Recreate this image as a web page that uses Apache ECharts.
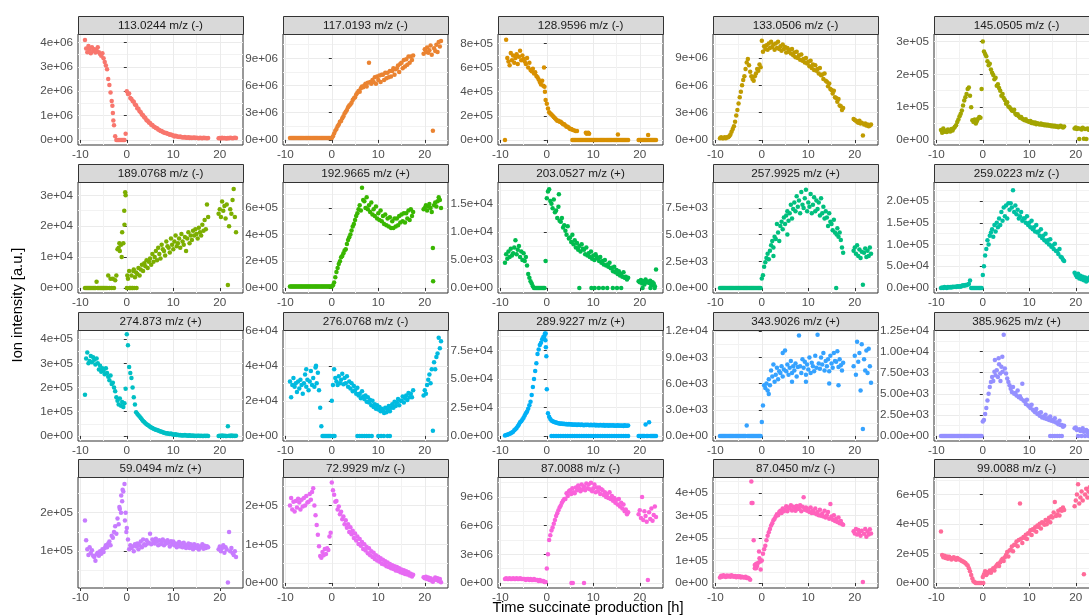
<!DOCTYPE html>
<html><head><meta charset="utf-8">
<script src="https://cdn.jsdelivr.net/npm/echarts@6/dist/echarts.min.js"></script>
<style>html,body{margin:0;padding:0;background:#fff}#c{width:1089px;height:616px}</style>
</head><body><div id="c"></div>
<script>
// ---------------- DATA ----------------
const time = [
-9,-8.75,-8.5,-8.25, -8,-7.75,-7.5,-7.25, -7,-6.75,-6.5,-6.25, -6,-5.75,-5.5,-5.25,
-5,-4.75,-4.5,-4.25, -4,-3.75,-3.5,-3.25, -3,-2.75,-2.5,-2.25, -2,-1.75,-1.5,-1.25,
-1,-0.75,-0.5,-0.25, 0,0.25,0.5,0.75, 1,1.25,1.5,1.75, 2,2.25,2.5,2.75,
3,3.25,3.5,3.75, 4,4.25,4.5,4.75, 5,5.25,5.5,5.75, 6,6.25,6.5,6.75,
7,7.25,7.5,7.75, 8,8.25,8.5,8.75, 9,9.25,9.5,9.75, 10,10.25,10.5,10.75,
11,11.25,11.5,11.75, 12,12.25,12.5,12.75, 13,13.25,13.5,13.75, 14,14.25,14.5,14.75,
15,15.25,15.5,15.75, 16,16.25,16.5,16.75, 17,17.25,17.5,
19.75,20,20.25,20.5,20.75,21,21.25,21.5,21.75,22,22.25,22.5,22.75,23,23.25,23.5];

const titles = ['113.0244 m/z (-)','117.0193 m/z (-)','128.9596 m/z (-)','133.0506 m/z (-)','145.0505 m/z (-)',
'189.0768 m/z (-)','192.9665 m/z (+)','203.0527 m/z (+)','257.9925 m/z (+)','259.0223 m/z (-)',
'274.873 m/z (+)','276.0768 m/z (-)','289.9227 m/z (+)','343.9026 m/z (+)','385.9625 m/z (+)',
'59.0494 m/z (+)','72.9929 m/z (-)','87.0088 m/z (-)','87.0450 m/z (-)','99.0088 m/z (-)'];

// unit of each panel's value list
const unit = [1e4,1e5,1e4,1e5,1e3, 1e2,1e4,1e2,1e2,1e3, 1e3,1e2,1e2,1e2,1e1, 1e3,1e3,1e5,1e3,1e3];

const v01 = [410,375,360,385, 370,355,380,365, 372,358,368,380, 360,352,345,355, 335,320,305,290, 250,225,195,160, 110,60,15,0, 0,0,0,0, 0,0,0,25,
200,188,190,172, 168,160,157,145, 142,130,128,118, 114,104,101,93, 90,81,79,72, 69,62,61,55, 53,49,48,43, 41,37,37,33, 31,28,28,25, 24,21,22,19, 18,14,17,15, 13,12,14,11, 11,10,12,9, 9,11,8,10, 8,9,10,8, 9,8,7,9, 8,7,9,8, 8,7,8,
7,8,6,9,7,8,7,6,8,7,9,8,7,8,9,8];
const v02 = [2,2,2,2, 2,2,2,2, 2,2,2,2, 2,2,2,2, 2,2,2,2, 2,2,2,2, 2,2,2,2, 2,2,2,2, 2,2,2,2,
2,4,7,10, 12,15,17,20, 21,24,26,29, 31,33,36,38, 39,41,44,46, 47,50,52,54, 53,57,59,58, 60,62,59,63, 85,64,62,66, 64,69,62,70, 66,71,64,72, 72,66,74,68, 74,69,76,70, 76,79,72,78, 79,82,75,84, 85,79,88,81, 89,83,92,85, 92,88,93,
95,100,97,102,96,99,104,94,10,101,98,105,97,108,103,109];
const v03 = [0,83,68,65, 62,72,66,70, 64,68,71,63, 69,74,66,70, 67,65,63,68, 60,64,58,57, 59,55,56,53, 52,50,48,46, 49,45,44,33,
30,26,23,22, 21,20,19,18, 17,16,16,15, 15,14,13,13, 12,11,11,10, 9,9,0,0, 0,0,0,0, 0,0,0,0, 0,0,0,0, 0,0,0,0, 0,0,0,0, 0,0,0,0, 0,0,0,0, 0,0,0,0, 0,0,0,0, 0,0,0,0, 0,0,0,0, 0,0,0,
0,0,0,0,0,0,0,0,0,0,0,0,0,0,0,0];
const v04 = [2,3,2,2, 3,2,3,3, 4,6,9,12, 15,20,27,33, 40,47,53,60, 66,70,78,85, 89,82,75,70, 67,65,70,73, 78,76,83,80,
109,97,103,100, 104,99,106,101, 108,102,105,99, 106,101,108,100, 103,98,105,100, 102,96,101,97, 99,95,100,93, 96,91,97,90, 93,88,94,87, 89,85,90,84, 86,81,87,79, 83,77,82,76, 78,73,79,71, 72,67,73,65, 64,59,62,56, 55,51,54,47, 46,42,45,38, 37,33,35,
23,22,21,20,19,21,18,19,5,17,18,16,17,15,16,17];
const v05 = [30,22,35,25, 28,24,32,27, 26,33,29,36, 40,45,55,62, 72,80,90,105, 120,130,140,155, 160,135,100,60, 55,62,50,58, 65,70,68,155,
300,270,262,255, 240,228,232,215, 205,198,185,190, 165,170,158,150, 135,140,128,122, 110,115,102,100, 95,90,88,92, 80,76,78,72, 68,70,65,62, 60,63,58,57, 55,58,52,54, 50,53,48,51, 49,47,50,46, 48,45,47,44, 46,43,45,42, 44,41,43,40, 42,39,41,43, 40,38,41,
35,38,33,36,3,34,32,37,4,33,3,35,31,34,4,30];
const v06 = [0,0,0,0, 0,0,0,0, 0,0,20,0, 0,0,0,0, 0,0,0,0, 40,0,30,0, 30,0,25,40, 125,130,120,140, 180,145,205,300,
0,30,55,0, 40,0,60,35, 50,45,65,40, 60,75,55,80, 70,90,65,85, 95,75,110,85, 100,120,90,130, 110,95,140,125, 120,105,150,135, 130,115,160,140, 125,150,170,135, 145,160,130,175, 150,140,165,120, 160,180,145,170, 155,185,170,190, 175,160,195,180, 170,205,185,220, 190,270,230,
240,255,230,280,250,265,225,270,10,200,255,240,285,320,230,180];
const v07 = [1,1,1,1, 1,1,1,1, 1,1,1,1, 1,1,1,1, 1,1,1,1, 1,1,1,1, 1,1,1,1, 1,1,1,1, 1,1,1,1,
1,2,4,8, 12,15,18,20, 23,24,26,28, 29,33,36,38, 40,43,46,48, 51,54,56,59, 62,58,75,66, 65,60,68,59, 62,57,64,55, 59,54,61,52, 56,51,58,50, 54,48,55,47, 52,46,53,45, 50,45,52,46, 52,47,54,49, 55,50,56,49, 56,52,58,51, 59,54,57,
59,60,62,58,61,63,60,57,30,62,64,61,65,68,66,60];
const v08 = [45,60,52,65, 55,70,58,62, 72,85,60,68, 75,55,65,50, 62,48,55,40, 25,18,12,8, 3,0,0,0, 0,0,0,0, 0,0,0,48,
160,172,176,155, 150,142,158,135, 138,125,145,120, 118,125,108,112, 102,95,110,88, 90,82,95,78, 85,72,80,68, 75,65,78,70, 68,60,72,58, 62,55,65,52, 58,50,60,55, 52,48,55,45, 48,42,50,40, 42,38,45,35, 36,30,38,28, 32,25,30,22, 25,20,28,18, 20,15,18,
12,10,14,8,12,6,15,10,11,9,13,5,10,8,3,33];
const v09 = [0,0,0,0, 0,0,0,0, 0,0,0,0, 0,0,0,0, 0,0,0,0, 0,0,0,0, 0,0,0,0, 0,0,0,0, 0,0,0,0,
9,12,20,24, 28,32,27,35, 40,44,38,48, 46,60,52,44, 58,62,55,66, 60,68,72,63, 70,78,65,74, 80,72,86,76, 82,70,90,78, 75,84,92,72, 80,76,88,70, 78,85,72,82, 74,80,68,84, 70,76,65,72, 66,58,70,62, 60,54,64,52, 0,56,48,52, 45,38,33,
35,38,32,40,30,36,28,34,3,33,37,29,35,30,38,32];
const v10 = [0,1,0,2, 1,0,2,1, 2,1,3,2, 3,2,4,3, 4,3,5,6, 5,7,6,8, 9,17,0,0, 0,0,0,0, 0,0,0,0,
30,50,75,90, 110,100,120,128, 135,118,145,130, 150,140,160,145, 175,155,185,165, 190,160,195,180, 195,185,225,175, 190,170,180,160, 165,175,155,160, 160,150,165,145, 150,140,155,135, 140,130,145,128, 130,120,135,115, 120,110,125,105, 110,100,112,95, 98,90,102,85, 85,78,90,72, 70,65,62,
35,30,25,33,22,28,20,26,18,24,15,22,18,25,20,16];
const v11 = [170,320,345,300, 310,330,305,325, 315,295,320,300, 275,290,265,280, 270,255,280,260, 245,230,250,215, 220,200,185,160, 145,130,155,125, 140,120,135,195,
420,375,285,260, 240,200,160,130, 98,92,85,80, 74,68,62,58, 52,48,45,42, 38,35,33,30, 28,26,24,22, 20,18,17,15, 13,12,10,11, 9,8,10,7, 6,5,7,4, 5,3,4,2, 3,2,4,2, 2,1,3,1, 1,2,0,1, 0,1,1,0, 1,0,0,1, 0,1,0,
0,1,0,2,0,1,0,0,40,1,0,2,0,1,0,1];
const v12 = [310,220,290,330, 280,300,250,310, 270,320,290,240, 300,350,280,320, 260,310,370,290, 330,280,390,300, 360,260,160,55, 0,0,0,0, 0,0,0,0,
200,290,380,330, 310,290,340,300, 320,355,295,330, 300,340,280,310, 270,300,255,285, 260,240,275,230, 240,215,255,225, 210,230,195,220, 190,205,175,200, 165,180,155,175, 150,165,140,155, 145,130,160,135, 150,170,140,160, 180,160,195,170, 190,210,175,200, 200,225,190,215, 230,205,245,220, 240,220,260,
230,260,240,290,320,350,300,380,30,420,380,450,470,560,500,540];
const v13 = [5,8,10,15, 20,25,30,38, 50,60,70,85, 100,120,130,145, 160,180,200,215, 240,270,300,360, 430,500,570,640, 720,760,800,820, 850,870,880,900,
410,200,170,150, 135,130,125,120, 118,115,112,110, 108,110,105,107, 104,106,102,105, 100,103,99,102, 98,101,97,100, 99,96,100,97, 95,98,96,99, 97,94,98,95, 96,99,93,97, 95,92,96,94, 93,96,91,95, 94,91,95,92, 92,95,90,93, 91,94,89,92, 90,93,88,95, 91,89,92,
0,0,0,0,0,0,100,0,0,120,0,0,0,0,0,0];
const v14 = [0,0,0,0, 0,0,0,0, 0,0,0,0, 0,0,0,0, 0,0,0,0, 0,0,0,12, 0,0,0,0, 0,0,0,0, 0,0,0,0,
16,35,58,55, 60,52,65,58, 75,68,82,62, 70,78,65,74, 72,80,68,76, 98,74,82,70, 78,86,72,80, 75,83,68,79, 115,80,72,88, 78,85,70,82, 76,90,72,84, 80,74,92,78, 116,83,77,90, 82,95,75,86, 80,88,74,92, 83,78,95,86, 85,97,79,88, 81,75,84,
80,92,70,108,85,95,52,105,8,88,75,98,72,100,80,61];
const v15 = [0,0,0,0, 0,0,0,0, 0,0,0,0, 0,0,0,0, 0,0,0,0, 0,0,0,0, 0,0,0,0, 0,0,0,0, 0,0,0,0,
170,190,260,330, 420,500,580,640, 700,650,760,720, 780,700,850,740, 820,760,1200,800, 740,680,640,600, 560,520,580,500, 510,480,540,460, 470,440,620,420, 410,380,430,360, 350,330,370,310, 300,280,320,260, 270,240,280,220, 230,210,250,200, 210,190,230,180, 190,170,210,160, 160,140,180,130, 130,110,120,
90,100,70,0,80,60,0,90,50,0,70,40,0,60,30,0];
const v16 = [180,128,105,90, 110,95,102,88, 85,75,92,96, 88,100,93,105, 98,108,115,110, 120,125,115,140, 135,150,165,145, 185,170,210,200, 230,255,275,200,
160,130,105,115, 108,112,100,118, 112,120,105,115, 125,110,130,118, 115,128,120,122, 145,118,130,125, 120,132,125,115, 128,118,124,130, 115,125,120,128, 122,112,126,118, 125,115,120,110, 118,124,112,120, 110,122,116,108, 115,120,108,118, 112,105,118,110, 108,115,104,112, 110,118,106,114, 108,113,110,
105,112,100,108,115,96,110,104,18,150,100,108,95,90,100,85];
const v17 = [200,220,190,210, 185,212,195,218, 208,190,215,198, 220,200,225,208, 210,230,215,235, 245,200,175,150, 125,95,70,65, 80,72,88,75, 90,85,120,130,
260,240,228,210, 212,190,198,178, 184,165,172,152, 162,143,152,132, 144,126,135,116, 128,110,120,101, 114,96,106,88, 100,84,93,77, 90,72,82,67, 78,62,72,58, 68,55,64,50, 60,48,56,43, 53,41,49,38, 46,36,43,32, 41,31,38,28, 35,26,33,23, 30,22,28,19, 24,17,21,
15,12,16,10,14,8,12,6,3,10,14,8,12,5,10,2];
const v18 = [4,5,4,4, 5,4,4,5, 4,4,5,4, 4,5,4,4, 4,4,3,4, 4,3,4,3, 3,4,3,3, 3,2,3,2, 2,2,1,1,
15,30,45,50, 55,58,62,66, 70,73,76,79, 81,84,86,88, 88,94,91,96, 97,93,99,95, 94,100,97,102, 99,96,103,98, 101,97,104,99, 103,98,105,96, 99,103,95,100, 96,100,93,98, 97,92,95,90, 93,89,95,88, 91,86,89,84, 87,82,88,80, 84,78,82,75, 77,72,74,
72,76,68,90,66,75,70,64,3,74,67,78,65,71,80,69];
const v19 = [25,32,28,35, 30,27,33,29, 32,28,35,30, 28,31,26,30, 27,30,25,28, 26,24,28,22, 23,20,15,450, 355,190,80,65, 75,90,110,60,
100,130,150,165, 190,210,225,240, 255,265,278,285, 295,305,300,315, 320,310,330,318, 325,340,318,335, 330,345,322,338, 335,320,342,328, 330,345,318,338, 380,325,335,320, 328,315,335,310, 322,310,330,305, 315,300,325,298, 308,295,320,290, 300,315,285,350, 295,280,300,275, 285,270,290,265, 275,262,258,
230,220,240,215,235,225,210,232,5,218,240,205,228,215,238,220];
const v20 = [350,190,175,185, 170,180,165,178, 172,160,168,175, 165,158,170,162, 160,155,150,145, 140,135,125,118, 100,80,55,30, 12,5,0,0, 0,0,0,0,
40,60,80,55, 65,75,85,70, 90,100,85,110, 120,130,115,140, 155,165,150,175, 190,210,180,220, 225,248,215,260, 260,282,250,292, 540,300,272,312, 305,328,298,338, 335,358,325,365, 358,378,348,390, 380,402,370,412, 405,395,428,398, 420,442,412,452, 445,478,550,455, 465,490,458,500, 490,512,495,
520,560,600,670,540,580,620,560,60,600,640,580,620,650,610,630];

// extra points off the shared time grid: [time, value in panel unit]
const x01 = [[-3.1,140],[-2.9,80]];
const x02 = [];
const x03 = [[5.5,8.5],[5.8,8],[6.2,7.5],[6.5,7.5],[8.4,6],[8.6,5.2],[8.9,6],[9.1,5.2],[15.3,4.5],[21.8,4],[-0.6,60],[-0.4,40]];
const x04 = [];
const x05 = [];
const x06 = [[-0.35,310],[-0.55,250],[-1.1,100],[-1.6,145],[0.6,0],[1.1,0],[1.6,0],[2.1,0],[0.1,40],[1.4,55]];
const x07 = [[21.8,5]];
const x08 = [[7,0],[9.6,0],[10.3,0],[11.2,0],[12.1,0],[13,0],[14.2,0],[15.1,0],[16,0],[20.6,0],[22.3,0],[23.2,0],[2.6,167]];
const x09 = [[16.1,50],[2.5,30],[5.5,50]];
const x10 = [];
const x11 = [];
const x12 = [[5.5,0],[6,0],[6.5,0],[7,0],[7.5,0],[8,0],[8.6,0],[10,0],[10.6,0],[11.2,0],[12,0],[12.5,0],[0.3,0],[0.6,0],[-3.4,400],[-5.5,380]];
const x13 = [[1,0],[1.5,0],[2,0],[2.5,0],[3,0],[3.5,0],[4,0],[4.5,0],[5,0],[5.5,0],[6,0],[6.5,0],[7,0],[7.5,0],[8,0],[8.5,0],[9,0],[9.5,0],[10,0],[10.5,0],[11,0],[11.5,0],[12,0],[12.5,0],[13,0],[13.5,0],[14,0],[14.5,0],[15,0],[15.5,0],[16,0],[16.5,0],[17,0],[17.5,0],[-0.6,860],[-0.4,900],[-0.3,840],[-0.2,780],[-0.1,700]];
const x14 = [[4.5,95],[6.5,62],[9.5,62],[14.5,60],[16.5,58],[1.5,48]];
const x15 = [[2.6,900],[3.4,920],[4.2,940],[3.8,650],[14.5,0],[15,0],[15.5,0],[16,0],[16.5,0],[17,0]];
const x16 = [[-1.2,245],[-0.9,260],[-1.6,215],[-0.4,180],[-0.1,150]];
const x17 = [];
const x18 = [[5.3,0],[5.6,0],[8,0]];
const x19 = [[-1.5,65],[-1.2,85],[-0.6,140],[-0.3,95],[-2.2,355]];
const x20 = [[0.1,0]];

// axis ticks and labels
const xTicks = [-10,0,10,20];
const xTickLabels = ['-10','0','10','20'];
const yTicks = [
 [0,1e6,2e6,3e6,4e6],[0,3e6,6e6,9e6],[0,2e5,4e5,6e5,8e5],[0,3e6,6e6,9e6],[0,1e5,2e5,3e5],
 [0,1e4,2e4,3e4],[0,2e5,4e5,6e5],[0,5e3,1e4,1.5e4],[0,2.5e3,5e3,7.5e3],[0,5e4,1e5,1.5e5,2e5],
 [0,1e5,2e5,3e5,4e5],[0,2e4,4e4,6e4],[0,2.5e4,5e4,7.5e4],[0,3e3,6e3,9e3,1.2e4],[0,2.5e3,5e3,7.5e3,1e4,1.25e4],
 [1e5,2e5],[0,1e5,2e5],[0,3e6,6e6,9e6],[0,1e5,2e5,3e5,4e5],[0,2e5,4e5,6e5]];
const yTickLabels = [
 ['0e+00','1e+06','2e+06','3e+06','4e+06'],['0e+00','3e+06','6e+06','9e+06'],['0e+00','2e+05','4e+05','6e+05','8e+05'],['0e+00','3e+06','6e+06','9e+06'],['0e+00','1e+05','2e+05','3e+05'],
 ['0e+00','1e+04','2e+04','3e+04'],['0e+00','2e+05','4e+05','6e+05'],['0.0e+00','5.0e+03','1.0e+04','1.5e+04'],['0.0e+00','2.5e+03','5.0e+03','7.5e+03'],['0.0e+00','5.0e+04','1.0e+05','1.5e+05','2.0e+05'],
 ['0e+00','1e+05','2e+05','3e+05','4e+05'],['0e+00','2e+04','4e+04','6e+04'],['0.0e+00','2.5e+04','5.0e+04','7.5e+04'],['0.0e+00','3.0e+03','6.0e+03','9.0e+03','1.2e+04'],['0.00e+00','2.50e+03','5.00e+03','7.50e+03','1.00e+04','1.25e+04'],
 ['1e+05','2e+05'],['0e+00','1e+05','2e+05'],['0e+00','3e+06','6e+06','9e+06'],['0e+00','1e+05','2e+05','3e+05','4e+05'],['0e+00','2e+05','4e+05','6e+05']];
const yLimits = [
 [-0.207e6,4.343e6],[-0.56e6,11.68e6],[-0.42e5,8.78e5],[-0.55e6,11.64e6],[-0.154e5,3.23e5],
 [-0.163e4,3.43e4],[-0.38e5,7.94e5],[-0.9e3,18.9e3],[-0.47e3,9.93e3],[-1.16e4,24.4e4],
 [-0.21e5,4.38e5],[-0.29e4,6.04e4],[-0.44e4,9.31e4],[-0.58e3,12.14e3],[-0.6e3,12.56e3],
 [0.04e5,2.93e5],[-0.13e5,2.74e5],[-0.53e6,11.09e6],[-0.22e5,4.7e5],[-0.34e5,7.19e5]];
const xLimits = [-10.5, 25];

// ---------------- LAYOUT / STYLE ----------------
const colors = ['#F8766D','#EA8331','#D89000','#C09B00','#A3A500','#7CAE00','#39B600','#00BB4E','#00BF7D','#00C1A3',
'#00BFC4','#00BAE0','#00B0F6','#35A2FF','#9590FF','#C77CFF','#E76BF3','#FA62DB','#FF62BC','#FF6A98'];
const colLeft = [78,283,498,713,934], rowTop = [34,182,330,477];
const PW = 165, PH = 111, SH = 18;
const FONT = '"Liberation Sans", Arial, Helvetica, sans-serif';

const values = [v01,v02,v03,v04,v05,v06,v07,v08,v09,v10,v11,v12,v13,v14,v15,v16,v17,v18,v19,v20];
const extras = [x01,x02,x03,x04,x05,x06,x07,x08,x09,x10,x11,x12,x13,x14,x15,x16,x17,x18,x19,x20];

function minorBreaks(ticks, lo, hi){
  const d = ticks[1]-ticks[0];
  const ext = [ticks[0]-d, ...ticks, ticks[ticks.length-1]+d];
  const out = [];
  for (let k=0;k<ext.length-1;k++){ const m=(ext[k]+ext[k+1])/2; if (m>lo && m<hi) out.push(m); }
  return out;
}
function labelFor(ticks, labels, span){
  return v => { const k = ticks.findIndex(t => Math.abs(t-v) <= span*1e-6); return k<0 ? '' : labels[k]; };
}

const grids=[], xAxes=[], yAxes=[], series=[], graphics=[];
const tickStyle = {show:true, length:3, lineStyle:{color:'#333333', width:1}};
const lab = {color:'#4D4D4D', fontSize:11.7, fontFamily:FONT};
const xMinor = minorBreaks(xTicks, xLimits[0], xLimits[1]);

for (let i=0;i<20;i++){
  const r = Math.floor(i/5), c = i%5;
  const left = colLeft[c], top = rowTop[r];
  grids.push({left:left, top:top, width:PW, height:PH, show:true, backgroundColor:'#FFFFFF',
    borderColor:'#333333', borderWidth:1, containLabel:false, outerBoundsMode:'none'});
  const [ylo, yhi] = yLimits[i];
  const yMinor = minorBreaks(yTicks[i], ylo, yhi);
  xAxes.push({gridIndex:i, type:'value', min:xLimits[0], max:xLimits[1], position:'bottom',
    axisLine:{show:false}, axisTick:Object.assign({}, tickStyle, {customValues:xTicks}),
    axisLabel:Object.assign({}, lab, {margin:4, customValues:xTicks, formatter:labelFor(xTicks,xTickLabels,xLimits[1]-xLimits[0])}),
    splitLine:{show:true, lineStyle:{color:'#EBEBEB', width:1}}});
  xAxes.push({gridIndex:i, type:'value', min:xLimits[0], max:xLimits[1], position:'top',
    axisLine:{show:false}, axisTick:{show:false, customValues:xMinor}, axisLabel:{show:false},
    splitLine:{show:true, lineStyle:{color:'#F2F2F2', width:1}}});
  yAxes.push({gridIndex:i, type:'value', min:ylo, max:yhi, position:'left',
    axisLine:{show:false}, axisTick:Object.assign({}, tickStyle, {customValues:yTicks[i]}),
    axisLabel:Object.assign({}, lab, {margin:5, customValues:yTicks[i], formatter:labelFor(yTicks[i],yTickLabels[i],yhi-ylo)}),
    splitLine:{show:true, lineStyle:{color:'#EBEBEB', width:1}}});
  yAxes.push({gridIndex:i, type:'value', min:ylo, max:yhi, position:'right',
    axisLine:{show:false}, axisTick:{show:false, customValues:yMinor}, axisLabel:{show:false},
    splitLine:{show:true, lineStyle:{color:'#F2F2F2', width:1}}});
  const data = [];
  values[i].forEach((v,k) => { if (v !== null && k < time.length) data.push([time[k], v*unit[i]]); });
  extras[i].forEach(p => data.push([p[0], p[1]*unit[i]]));
  series.push({type:'scatter', xAxisIndex:2*i, yAxisIndex:2*i, data:data, symbol:'circle', symbolSize:4.5,
    itemStyle:{color:colors[i], opacity:1}, silent:true, animation:false, z:3});
  // facet strip
  graphics.push({type:'rect', shape:{x:left+0.5, y:top-SH+0.5, width:PW, height:SH},
    style:{fill:'#D9D9D9', stroke:'#333333', lineWidth:1}, z:10});
  graphics.push({type:'text', x:left+PW/2, y:top-SH/2+0.5,
    style:{text:titles[i], fill:'#1A1A1A', font:'11.7px '+FONT, align:'center', verticalAlign:'middle',
      textAlign:'center', textVerticalAlign:'middle'}, z:11});
}
graphics.push({type:'text', x:18, y:305, rotation:Math.PI/2,
  style:{text:'Ion intensity [a.u.]', fill:'#000000', font:'14.67px '+FONT, align:'center', verticalAlign:'middle',
    textAlign:'center', textVerticalAlign:'middle'}});
graphics.push({type:'text', x:588, y:600,
  style:{text:'Time succinate production [h]', fill:'#000000', font:'14.67px '+FONT, align:'center', verticalAlign:'top',
    textAlign:'center', textVerticalAlign:'top'}});

const chart = echarts.init(document.getElementById('c'), null, {renderer:'canvas', width:1089, height:616});
chart.setOption({
  animation:false,
  backgroundColor:'#FFFFFF',
  grid:grids, xAxis:xAxes, yAxis:yAxes, series:series, graphic:graphics
});
</script>
</body></html>
